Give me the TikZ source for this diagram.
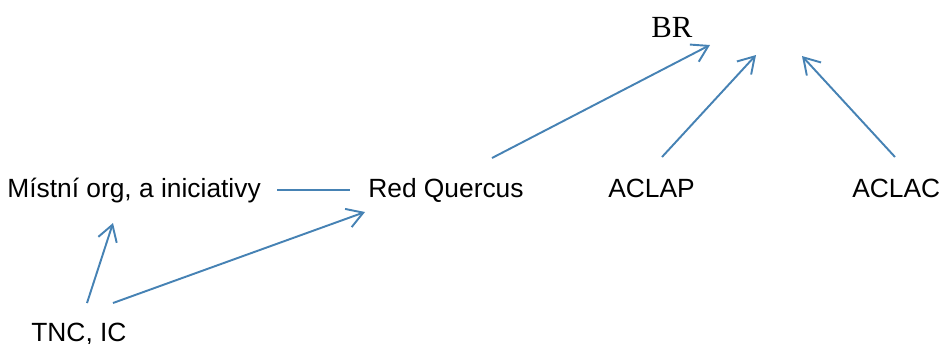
\documentclass[tikz,border=0pt]{standalone}
\usepackage[svgnames]{xcolor}
\usepackage{fontspec}
\setmainfont{Liberation Sans}
\newfontfamily\brfont{Liberation Serif}
\usepackage{tikz}
\usetikzlibrary{calc}
\usetikzlibrary{arrows.meta}

\begin{document}
\begin{tikzpicture}[
        x=0.02cm, y=-0.02cm,
        label/.style={anchor=base west, inner sep=0pt, font=\fontsize{15}{18}\selectfont},
        link/.style={line width=1.1pt, color=SteelBlue},
        arrow/.style={link, -{Straight Barb[length=9pt, width=11pt]}},
    ]
            \useasboundingbox (0,0) rectangle (941,343);

            % Actors
            \node (br) at (651,37) [anchor=base west, inner sep=0pt, font=\brfont\fontsize{17.5}{20}\selectfont] {BR};
            \node (mistni) at (7,197) [label] {Místní org, a iniciativy};
            \node (redquercus) at (368,197) [label] {Red Quercus};
            \node (aclap) at (608,197) [label] {ACLAP};
            \node (aclac) at (852,197) [label] {ACLAC};
            \node (tnc) at (31,341) [label] {TNC, IC};

            % Local level
            \draw [link] ($(mistni.base west)+(270,-7)$) -- ($(redquercus.base west)+(-18,-7)$);
            \draw [arrow] ($(tnc.base west)+(56,-38)$) -- ($(mistni.base west)+(106,26)$);
            \draw [arrow] ($(tnc.base west)+(82,-38)$) -- ($(redquercus.base west)+(-3,15)$);

            % Towards BR
            \draw [arrow] ($(redquercus.base west)+(124,-39)$) -- ($(br.base west)+(59,8)$);
            \draw [arrow] ($(aclap.base west)+(54,-40)$) -- ($(br.base west)+(105,18)$);
            \draw [arrow] ($(aclac.base west)+(43,-40)$) -- ($(br.base west)+(151,19)$);
        \end{tikzpicture}
\end{document}
